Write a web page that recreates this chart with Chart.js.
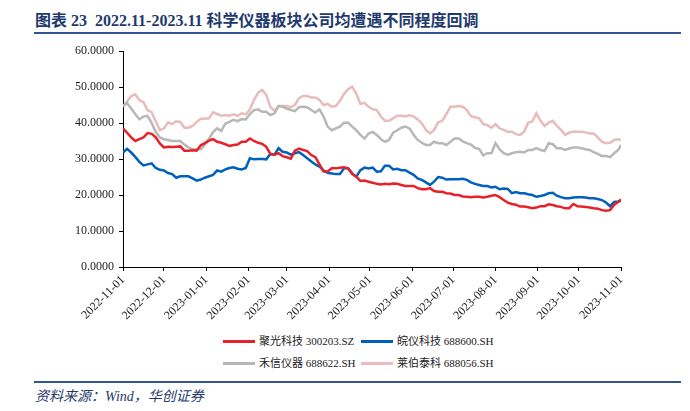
<!DOCTYPE html>
<html>
<head>
<meta charset="utf-8">
<script src="https://cdn.jsdelivr.net/npm/chart.js@4.4.0/dist/chart.umd.min.js"></script>
<style>
body{margin:0;background:#fff;width:690px;height:411px;position:relative;overflow:hidden;font-family:"Liberation Serif","Noto Sans CJK SC",serif;}
#title{position:absolute;left:35px;top:7px;font-size:16px;font-weight:bold;color:#1F3A6E;white-space:nowrap;}
.rule{position:absolute;left:34px;width:647px;height:2px;background:#2F5597;}
#wrap{position:absolute;left:0;top:0;width:690px;height:330px;}
.leg{position:absolute;height:16px;line-height:16px;font-size:11px;color:#222;white-space:nowrap;display:flex;align-items:center;}
.leg i{display:inline-block;width:32px;height:3px;margin-right:4px;}
#src{position:absolute;left:35px;top:385px;font-size:14px;font-style:italic;color:#1F3A6E;white-space:nowrap;}
</style>
</head>
<body>
<div id="title">图表 23&nbsp; 2022.11-2023.11 科学仪器板块公司均遭遇不同程度回调</div>
<div class="rule" style="top:32px"></div>
<div id="wrap"><canvas id="grafico"></canvas></div>
<div class="leg" style="left:223px;top:333px"><i style="background:#E8202A"></i>聚光科技 300203.SZ</div>
<div class="leg" style="left:361px;top:333px"><i style="background:#0060BE"></i>皖仪科技 688600.SH</div>
<div class="leg" style="left:223px;top:355px"><i style="background:#B7B7B7"></i>禾信仪器 688622.SH</div>
<div class="leg" style="left:361px;top:355px"><i style="background:#E8BCBC"></i>莱伯泰科 688056.SH</div>
<div class="rule" style="top:381px"></div>
<div id="src">资料来源：Wind，华创证券</div>
<script>
// datas (amostra a cada 3 dias)
const datas = [
  '2022-11-01','2022-11-04','2022-11-07','2022-11-10','2022-11-13','2022-11-16','2022-11-19','2022-11-22','2022-11-25','2022-11-28',
  '2022-12-01','2022-12-04','2022-12-07','2022-12-10','2022-12-13','2022-12-16','2022-12-19','2022-12-22','2022-12-25','2022-12-28',
  '2022-12-31','2023-01-03','2023-01-06','2023-01-09','2023-01-12','2023-01-15','2023-01-18','2023-01-21','2023-01-24','2023-01-27',
  '2023-01-30','2023-02-02','2023-02-05','2023-02-08','2023-02-11','2023-02-14','2023-02-17','2023-02-20','2023-02-23','2023-02-26',
  '2023-03-01','2023-03-04','2023-03-07','2023-03-10','2023-03-13','2023-03-16','2023-03-19','2023-03-22','2023-03-25','2023-03-28',
  '2023-03-31','2023-04-03','2023-04-06','2023-04-09','2023-04-12','2023-04-15','2023-04-18','2023-04-21','2023-04-24','2023-04-27',
  '2023-04-30','2023-05-03','2023-05-06','2023-05-09','2023-05-12','2023-05-15','2023-05-18','2023-05-21','2023-05-24','2023-05-27',
  '2023-05-30','2023-06-02','2023-06-05','2023-06-08','2023-06-11','2023-06-14','2023-06-17','2023-06-20','2023-06-23','2023-06-26',
  '2023-06-29','2023-07-02','2023-07-05','2023-07-08','2023-07-11','2023-07-14','2023-07-17','2023-07-20','2023-07-23','2023-07-26',
  '2023-07-29','2023-08-01','2023-08-04','2023-08-07','2023-08-10','2023-08-13','2023-08-16','2023-08-19','2023-08-22','2023-08-25',
  '2023-08-28','2023-08-31','2023-09-03','2023-09-06','2023-09-09','2023-09-12','2023-09-15','2023-09-18','2023-09-21','2023-09-24',
  '2023-09-27','2023-09-30','2023-10-03','2023-10-06','2023-10-09','2023-10-12','2023-10-15','2023-10-18','2023-10-21','2023-10-24',
  '2023-10-27','2023-10-30','2023-11-01'
];
const juguang = [
  38.5,37.3,36.0,35.0,35.5,36.0,37.2,37.0,36.0,34.3,
  33.2,33.4,33.3,33.4,33.5,32.3,32.3,32.4,32.3,33.8,
  34.4,35.1,35.5,34.8,34.5,34.1,33.6,33.9,34.0,34.8,
  34.8,35.7,35.0,34.5,34.2,33.4,31.4,31.2,31.6,30.8,
  30.5,30.1,32.3,32.9,32.5,32.2,31.1,30.5,28.5,26.5,
  26.5,27.4,27.4,27.6,27.7,27.4,25.8,25.1,23.9,24.0,
  23.7,23.4,23.1,22.9,23.1,23.0,23.2,23.1,22.8,22.5,
  22.5,22.5,21.9,21.6,21.6,21.9,21.1,20.9,20.9,20.5,
  20.4,20.0,20.0,19.6,19.5,19.4,19.5,19.5,19.3,19.5,
  19.8,20.0,19.4,18.6,17.9,17.5,17.3,16.8,16.8,16.6,
  16.3,16.5,16.9,16.9,17.4,17.2,16.9,16.7,16.3,16.3,
  17.5,16.9,16.8,16.7,16.5,16.3,16.2,15.8,15.6,15.8,
  17.3,18.1,18.8
];
const wanyi = [
  31.8,32.8,31.8,30.6,29.2,28.2,28.5,28.8,27.5,27.0,
  26.8,26.1,25.8,24.8,25.2,25.2,25.2,24.6,24.0,24.3,
  24.8,25.2,25.6,26.8,26.5,27.1,27.5,27.7,27.3,27.1,
  27.5,30.2,29.9,30.0,30.0,29.9,31.4,31.2,33.0,32.0,
  31.8,31.2,31.6,31.9,31.1,30.2,29.3,28.5,27.9,26.8,
  26.2,26.0,25.8,25.8,27.4,27.4,26.0,25.1,26.9,27.6,
  27.4,27.6,26.5,26.6,28.1,28.1,27.1,27.3,26.9,26.9,
  26.2,25.6,24.6,24.2,23.5,22.8,23.7,25.0,24.8,24.3,
  24.4,24.4,24.4,24.5,24.2,23.5,23.1,22.8,22.5,22.5,
  22.1,22.3,21.6,21.8,21.7,20.5,20.8,20.5,20.5,20.2,
  20.0,19.5,19.7,20.0,20.5,20.6,19.8,19.4,19.1,19.1,
  19.3,19.4,19.4,19.3,19.1,19.1,18.9,18.6,17.9,16.9,
  18.1,18.2,18.4
];
const hexin = [
  44.8,45.5,44.0,42.5,41.0,41.8,42.0,40.0,37.5,36.0,
  35.5,35.3,35.0,35.0,35.0,34.0,33.2,32.7,32.7,32.7,
  34.0,35.6,37.5,38.5,37.8,39.8,40.3,40.9,40.5,41.1,
  41.0,42.5,43.6,43.8,43.1,43.1,42.2,42.7,44.7,44.5,
  44.0,43.6,43.3,44.4,44.5,44.4,43.6,42.9,43.8,41.8,
  39.0,38.0,38.5,39.0,40.1,40.1,39.0,38.0,36.7,35.7,
  37.1,37.5,36.7,35.5,34.8,35.3,37.3,38.0,38.7,39.0,
  38.5,36.7,35.3,34.5,33.9,33.9,34.8,34.4,34.4,33.9,
  34.8,35.7,35.7,34.9,34.4,34.0,33.1,32.8,31.0,31.6,
  31.6,34.4,32.7,31.6,31.2,31.6,31.9,32.0,31.8,32.5,
  32.5,33.0,32.5,32.2,34.4,34.1,33.0,33.0,32.5,32.9,
  33.2,33.2,33.0,32.7,32.5,31.9,31.4,30.8,30.8,30.5,
  31.6,32.5,33.9
];
const laibo = [
  44.5,46.0,47.5,48.0,46.3,45.8,43.5,43.0,40.5,38.0,
  38.5,40.2,39.7,40.5,40.3,38.7,38.7,39.2,40.3,41.2,
  41.2,41.3,43.0,42.5,42.0,42.2,42.0,42.4,42.0,42.7,
  42.4,43.8,46.4,48.4,49.2,47.8,44.5,43.4,44.7,44.7,
  44.7,44.4,45.0,46.9,47.5,47.5,47.1,47.1,46.4,45.0,
  45.3,44.5,44.7,46.2,48.1,49.4,50.1,48.1,45.3,45.6,
  44.5,43.8,43.6,41.8,40.6,40.6,41.3,42.0,42.0,41.8,
  42.2,41.8,41.0,39.9,38.1,37.1,38.1,40.2,40.6,42.5,
  44.5,44.5,44.7,44.5,43.6,41.9,41.6,41.3,39.7,39.4,
  38.7,39.7,38.5,38.1,37.6,37.6,36.9,36.7,37.6,40.1,
  40.4,42.7,40.6,39.2,40.1,40.6,39.2,38.1,36.7,37.3,
  37.6,37.6,37.6,37.4,37.1,37.1,36.0,34.8,34.4,34.5,
  35.3,35.5,35.3
];
const mesesTicks = [
  '2022-11-01','2022-12-01','2023-01-01','2023-02-01','2023-03-01','2023-04-01','2023-05-01',
  '2023-06-01','2023-07-01','2023-08-01','2023-09-01','2023-10-01','2023-11-01'
];

const inicio = Date.parse('2022-11-01');
const dia = d => (Date.parse(d) - inicio) / 86400000;
const pontos = serie => datas.map((d, i) => ({x: dia(d), y: serie[i]}));
const fonte = {family: '"Liberation Serif", serif', size: 12};

const linha = (label, serie, cor) => ({
    label: label,
    data: pontos(serie),
    borderColor: cor,
    backgroundColor: cor,
    borderWidth: 2.5,
    pointRadius: 0,
    tension: 0
});

const ctx = document.getElementById('grafico').getContext('2d');
const grafico = new Chart(ctx, {
    type: 'line',
    data: {
        datasets: [
            linha('聚光科技 300203.SZ', juguang, '#E8202A'),
            linha('皖仪科技 688600.SH', wanyi, '#0060BE'),
            linha('禾信仪器 688622.SH', hexin, '#B7B7B7'),
            linha('莱伯泰科 688056.SH', laibo, '#E8BCBC')
        ]
    },
    options: {
        responsive: true,
        maintainAspectRatio: false,
        animation: false,
        layout: {padding: {left: 0, right: 69, top: 51, bottom: 0}},
        plugins: {
            legend: {display: false},
            tooltip: {enabled: false}
        },
        scales: {
            x: {
                type: 'linear',
                min: 0,
                max: dia('2023-11-01'),
                afterBuildTicks: scale => { scale.ticks = mesesTicks.map(d => ({value: dia(d)})); },
                afterFit: scale => { scale.height = 63; },
                grid: {drawOnChartArea: false, drawTicks: true, tickLength: 4, color: '#000'},
                border: {display: true, color: '#000', width: 1},
                ticks: {
                    autoSkip: false,
                    minRotation: 45,
                    maxRotation: 45,
                    padding: 2,
                    color: '#222',
                    font: fonte,
                    callback: (v, i) => mesesTicks[i]
                }
            },
            y: {
                min: 0,
                max: 60,
                afterFit: scale => { scale.width = 123; },
                grid: {drawOnChartArea: false, drawTicks: true, tickLength: 4, color: '#000'},
                border: {display: true, color: '#000', width: 1},
                ticks: {
                    stepSize: 10,
                    padding: 5,
                    color: '#222',
                    font: fonte,
                    callback: v => v.toFixed(4)
                }
            }
        }
    }
});
</script>
</body>
</html>
